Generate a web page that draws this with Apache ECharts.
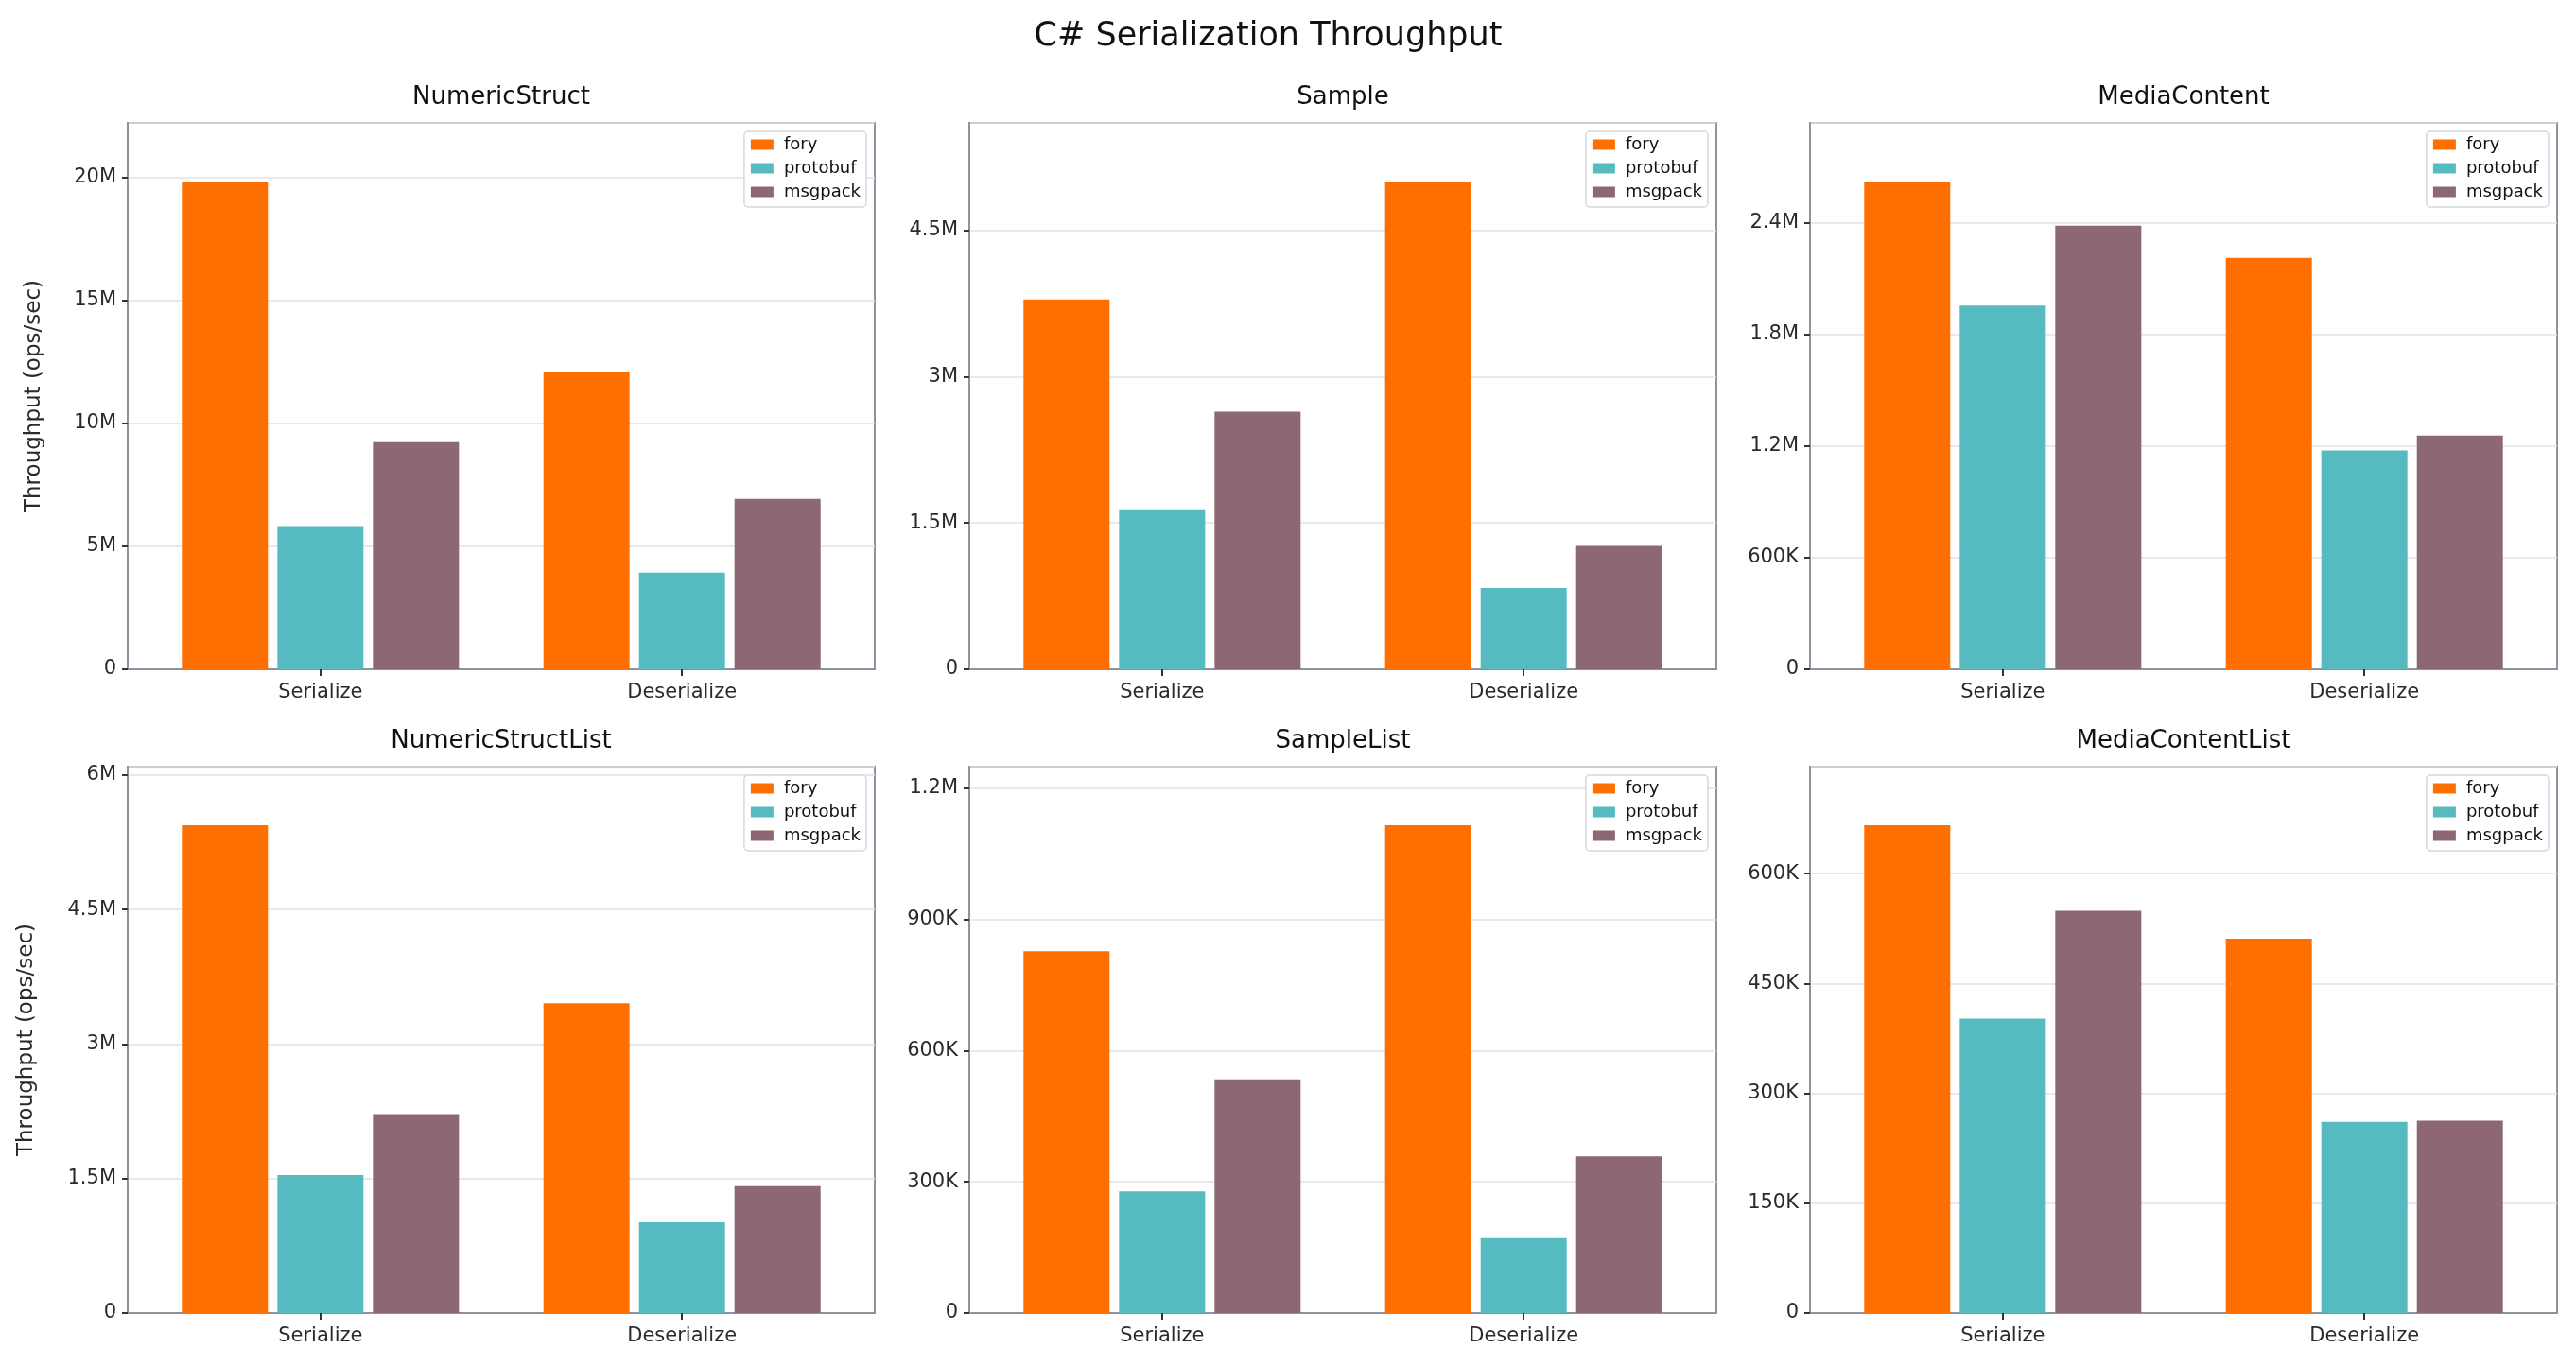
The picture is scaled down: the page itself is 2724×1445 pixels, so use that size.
<!DOCTYPE html>
<html>
<head>
<meta charset="utf-8">
<title>C# Serialization Throughput</title>
<script src="https://cdn.jsdelivr.net/npm/echarts@6/dist/echarts.min.js"></script>
<style>
  html, body { margin: 0; padding: 0; background: #fff; }
  #chart { width: 2724px; height: 1445px; }
</style>
</head>
<body>
<div id="chart"></div>
<script>
var benchmarks = ['NumericStruct', 'Sample', 'MediaContent', 'NumericStructList', 'SampleList', 'MediaContentList'];
var categories = ['Serialize', 'Deserialize'];
var serializers = ['fory', 'protobuf', 'msgpack'];

// [Serialize, Deserialize] ops/sec, one pair per benchmark
var foryValues = [[19.84e6, 12.09e6], [3.79e6, 5.0e6], [2.623e6, 2.212e6], [5.44e6, 3.454e6], [827e3, 1115e3], [666e3, 511e3]];
var protobufValues = [[5.82e6, 3.93e6], [1.639e6, 0.834e6], [1.956e6, 1.176e6], [1.539e6, 1.012e6], [278e3, 171e3], [402e3, 261e3]];
var msgpackValues = [[9.24e6, 6.93e6], [2.641e6, 1.264e6], [2.385e6, 1.257e6], [2.219e6, 1.416e6], [534e3, 358e3], [549e3, 262.5e3]];

var yIntervals = [5e6, 1.5e6, 600e3, 1.5e6, 300e3, 150e3];

var colors = ['#ff6f00', '#55bbc1', '#8d6771'];
var font = 'DejaVu Sans';
var frameColor = '#8d929c';

var colLeft = [135, 1025, 1914];
var colWidth = 790;
var rowTop = [130, 811];
var rowHeight = 578;

function fmtNum(v) {
    if (v >= 1e6) return +(v / 1e6).toFixed(2) + 'M';
    if (v >= 1e3) return +(v / 1e3).toFixed(1) + 'K';
    return String(v);
}

var allValues = [foryValues, protobufValues, msgpackValues];
var chart = echarts.init(document.getElementById('chart'));

var option = {
    animation: false,
    backgroundColor: '#fff',
    title: [{
        text: 'C# Serialization Throughput',
        left: 1341, top: 21, padding: 0, textAlign: 'center',
        textStyle: { fontFamily: font, fontSize: 35, fontWeight: 'normal', color: '#111' }
    }],
    grid: [], xAxis: [], yAxis: [], legend: [], series: []
};

benchmarks.forEach(function (name, i) {
    var col = i % 3, row = Math.floor(i / 3);
    var left = colLeft[col], top = rowTop[row];
    var interval = yIntervals[i];
    var maxVal = 0;
    allValues.forEach(function (vals) { maxVal = Math.max(maxVal, vals[i][0], vals[i][1]); });

    option.title.push({
        text: name,
        left: left + colWidth / 2, top: top - 40, padding: 0, textAlign: 'center',
        textStyle: { fontFamily: font, fontSize: 26, fontWeight: 'normal', color: '#111' }
    });

    option.grid.push({
        left: left, top: top, width: colWidth, height: rowHeight,
        show: true, borderColor: frameColor, borderWidth: 2, backgroundColor: '#fff'
    });

    option.xAxis.push({
        type: 'value', gridIndex: i, min: -0.533, max: 1.533,
        axisLine: { show: true, onZero: false, lineStyle: { color: frameColor, width: 2 } },
        axisTick: { show: true, customValues: [0, 1], length: 7, lineStyle: { color: '#333', width: 2 } },
        axisLabel: {
            customValues: [0, 1], margin: 14,
            fontFamily: font, fontSize: 21, color: '#2a2a2a',
            formatter: function (v) { return categories[Math.round(v)]; }
        },
        splitLine: { show: false }
    });

    option.yAxis.push({
        type: 'value', gridIndex: i, min: 0, max: maxVal * 1.12, interval: interval,
        name: col === 0 ? 'Throughput (ops/sec)' : '',
        nameLocation: 'middle', nameGap: row === 0 ? 87 : 95,
        nameTextStyle: { fontFamily: font, fontSize: 23, color: '#2a2a2a' },
        axisLine: { show: true, onZero: false, lineStyle: { color: frameColor, width: 2 } },
        axisTick: { show: true, length: 6, lineStyle: { color: '#333', width: 2 } },
        axisLabel: {
            margin: 12, fontFamily: font, fontSize: 21, color: '#2a2a2a', showMaxLabel: false,
            formatter: function (v) {
                var r = v / interval;
                if (Math.abs(r - Math.round(r)) > 1e-6) return '';
                return fmtNum(v);
            }
        },
        splitLine: { show: true, lineStyle: { color: '#dfe2ea', width: 1.5 } }
    });

    option.legend.push({
        orient: 'vertical',
        right: 2724 - (left + colWidth - 9), top: top + 9,
        data: serializers, selectedMode: false,
        icon: 'rect', itemWidth: 24, itemHeight: 11, itemGap: 7,
        padding: [5, 6, 7, 7],
        backgroundColor: '#fff', borderColor: '#d5d8de', borderWidth: 1.5, borderRadius: 4,
        textStyle: { fontFamily: font, fontSize: 18, lineHeight: 18, color: '#111', padding: [0, 0, 0, 6] }
    });

    serializers.forEach(function (s, k) {
        option.series.push({
            type: 'bar', name: s, xAxisIndex: i, yAxisIndex: i,
            barWidth: 91, barGap: '11%',
            itemStyle: { color: colors[k] },
            data: allValues[k][i].map(function (v, c) { return [c, v]; })
        });
    });
});

chart.setOption(option);
</script>
</body>
</html>
